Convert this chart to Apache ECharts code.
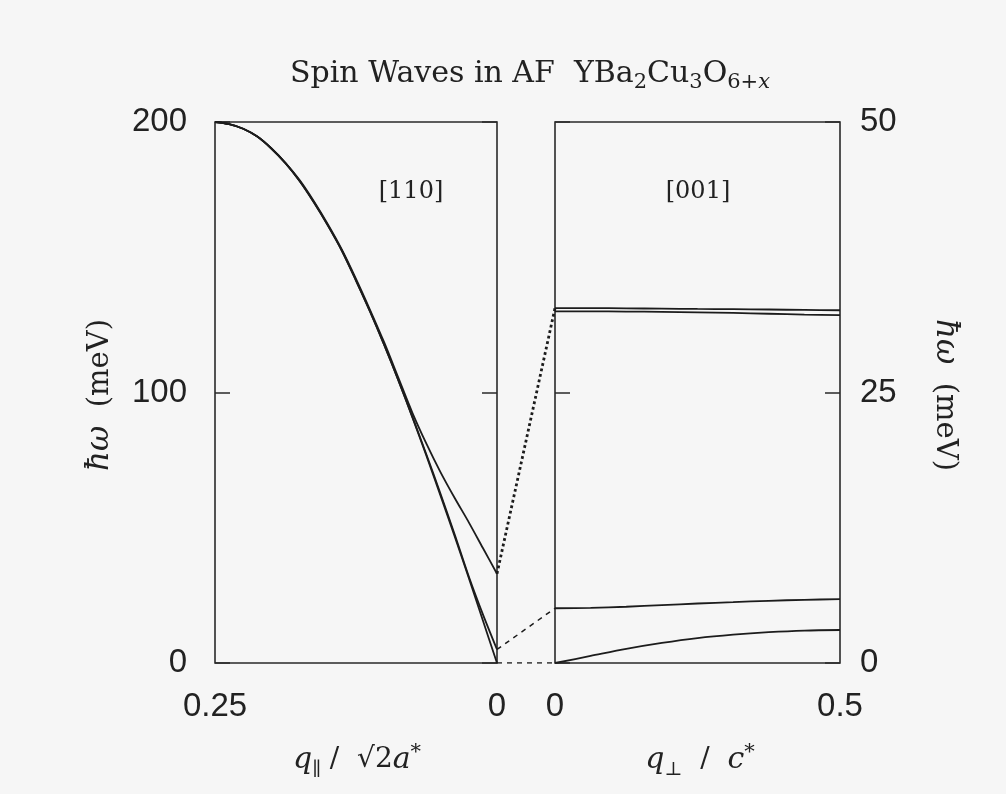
<!DOCTYPE html>
<html><head><meta charset="utf-8">
<script src="https://cdn.jsdelivr.net/npm/echarts@6/dist/echarts.min.js"></script>
<style>html,body{margin:0;padding:0;background:#f6f6f6}#c{width:1006px;height:794px}</style>
</head><body><div id="c"></div>
<script>
// ---- data ----
// [110] panel: q_par (units of sqrt2 a*), energy in meV (left scale 0-200)
const q110 = [0.25, 0.2375, 0.225, 0.2125, 0.20, 0.1875, 0.175, 0.1625, 0.15, 0.1375, 0.125, 0.1125, 0.10, 0.0875, 0.075, 0.0625, 0.05, 0.0375, 0.025, 0.0125, 0.0];
const w110_gap33 = [200, 199.2, 197.5, 194.6, 190.2, 184.8, 178.5, 170.8, 162.2, 152.8, 142, 130.5, 118.5, 105.5, 92.5, 81, 70.5, 61, 52, 42.5, 33];
const w110_gap5  = [200, 199.2, 197.5, 194.6, 190.2, 184.8, 178.2, 170.4, 161.8, 152.4, 141.4, 129.9, 117.6, 104.6, 91, 77, 62.5, 47.5, 32, 18, 5];
const w110_gap0  = [200, 199.2, 197.5, 194.6, 190.2, 184.8, 178.2, 170.4, 161.8, 152.4, 141.4, 129.9, 117.6, 104.6, 90.8, 76.5, 61.8, 46.8, 31.4, 15.7, 0];
// [001] panel: q_perp (units of c*), energy in meV (right scale 0-50)
const q001 = [0, 0.0625, 0.125, 0.1875, 0.25, 0.3125, 0.375, 0.4375, 0.5];
const w001_top1 = [32.8, 32.8, 32.78, 32.75, 32.72, 32.7, 32.67, 32.63, 32.6];
const w001_top2 = [32.5, 32.5, 32.48, 32.45, 32.4, 32.35, 32.28, 32.2, 32.15];
const w001_mid  = [5.06, 5.1, 5.2, 5.35, 5.5, 5.62, 5.75, 5.84, 5.9];
const w001_low  = [0, 0.65, 1.3, 1.85, 2.3, 2.62, 2.85, 3.0, 3.05];
// tick labels
const leftTicks = [0, 100, 200];
const rightTicks = [0, 25, 50];

const pairs = (xs, ys) => xs.map((x, i) => [x, ys[i]]);
const INK = '#1c1c1c';
const TICKFONT = 'Liberation Sans';
const SERIF = 'DejaVu Serif';

const curve = (data, xi, yi) => ({
  type: 'line', xAxisIndex: xi, yAxisIndex: yi, data, smooth: 0.3,
  showSymbol: false, symbol: 'none', lineStyle: { color: INK, width: 1.8 }, z: 3, silent: true
});
const conn = (data, type, width) => ({
  type: 'line', xAxisIndex: 2, yAxisIndex: 4, data, showSymbol: false, symbol: 'none',
  lineStyle: { color: INK, width, type }, silent: true
});

const chart = echarts.init(document.getElementById('c'), null, { renderer: 'canvas' });

const gridCommon = { show: true, borderColor: '#2a2a2a', borderWidth: 1.6, backgroundColor: 'transparent' };
const yBase = (extra) => Object.assign({
  type: 'value', splitLine: { show: false },
  axisLine: { show: false, onZero: false },
  axisTick: { show: true, inside: true, length: 15, lineStyle: { color: '#2a2a2a', width: 1.5 } },
  axisLabel: { show: false }
}, extra);
const xBase = (extra) => Object.assign({
  type: 'value', splitLine: { show: false }, axisLine: { show: false, onZero: false }, axisTick: { show: false },
  axisLabel: { show: true, color: '#222', fontFamily: TICKFONT, fontSize: 33, margin: 27 }
}, extra);

chart.setOption({
  backgroundColor: '#f6f6f6',
  animation: false,
  grid: [
    Object.assign({ left: 215, top: 122, width: 282, height: 541 }, gridCommon),
    Object.assign({ left: 555, top: 122, width: 285, height: 541 }, gridCommon),
    { left: 497, top: 122, width: 58, height: 541, show: false }
  ],
  xAxis: [
    xBase({ gridIndex: 0, min: 0, max: 0.25, interval: 0.25, inverse: true }),
    xBase({ gridIndex: 1, min: 0, max: 0.5, interval: 0.5 }),
    { type: 'value', gridIndex: 2, min: 0, max: 1, show: false }
  ],
  yAxis: [
    yBase({ gridIndex: 0, position: 'left', min: leftTicks[0], max: leftTicks[2], interval: leftTicks[1],
      axisLabel: { show: true, color: '#222', fontFamily: TICKFONT, fontSize: 33, margin: 28 } }),
    yBase({ gridIndex: 0, position: 'right', min: leftTicks[0], max: leftTicks[2], interval: leftTicks[1] }),
    yBase({ gridIndex: 1, position: 'left', min: rightTicks[0], max: rightTicks[2], interval: rightTicks[1] }),
    yBase({ gridIndex: 1, position: 'right', min: rightTicks[0], max: rightTicks[2], interval: rightTicks[1],
      axisLabel: { show: true, color: '#222', fontFamily: TICKFONT, fontSize: 33, margin: 20 } }),
    { type: 'value', gridIndex: 2, min: leftTicks[0], max: leftTicks[2], show: false }
  ],
  series: [
    curve(pairs(q110, w110_gap33), 0, 0),
    curve(pairs(q110, w110_gap5), 0, 0),
    curve(pairs(q110, w110_gap0), 0, 0),
    curve(pairs(q001, w001_top1), 1, 3),
    curve(pairs(q001, w001_top2), 1, 3),
    curve(pairs(q001, w001_mid), 1, 3),
    curve(pairs(q001, w001_low), 1, 3),
    // connectors between panels (right-panel meV scaled x4 onto the 0-200 scale)
    conn([[0, w110_gap33[w110_gap33.length - 1]], [1, w001_top1[0] * 4]], 'dotted', 2.8),
    conn([[0, w110_gap5[w110_gap5.length - 1]], [1, w001_mid[0] * 4]], [5, 5], 1.5),
    conn([[0, w110_gap0[w110_gap0.length - 1]], [1, w001_low[0] * 4]], [5, 5], 1.5)
  ],
  graphic: [
    { type: 'text', x: 530, y: 74, style: {
      text: '{t|Spin Waves in AF  YBa}{s|2}{t|Cu}{s|3}{t|O}{s|6+}{si|x}',
      align: 'center', verticalAlign: 'middle', fill: '#222',
      rich: {
        t: { fontFamily: SERIF, fontSize: 30, verticalAlign: 'middle', fill: '#222' },
        s: { fontFamily: SERIF, fontSize: 21, verticalAlign: 'middle', padding: [18, 0, 0, 0], fill: '#222' },
        si: { fontFamily: SERIF, fontSize: 21, fontStyle: 'italic', verticalAlign: 'middle', padding: [18, 0, 0, 0], fill: '#222' }
      } } },
    { type: 'text', x: 100, y: 395, rotation: Math.PI / 2, style: {
      text: '{i|ħω}{t|  (meV)}', align: 'center', verticalAlign: 'middle',
      rich: {
        i: { fontFamily: SERIF, fontSize: 31, fontStyle: 'italic', fill: '#222' },
        t: { fontFamily: SERIF, fontSize: 29, fill: '#222' }
      } } },
    { type: 'text', x: 945, y: 395, rotation: -Math.PI / 2, style: {
      text: '{i|ħω}{t|  (meV)}', align: 'center', verticalAlign: 'middle',
      rich: {
        i: { fontFamily: SERIF, fontSize: 31, fontStyle: 'italic', fill: '#222' },
        t: { fontFamily: SERIF, fontSize: 29, fill: '#222' }
      } } },
    { type: 'text', x: 357, y: 760, style: {
      text: '{i|q}{s|∥}{t| /  √2}{i|a}{p|*}', align: 'center', verticalAlign: 'middle',
      rich: {
        i: { fontFamily: SERIF, fontSize: 30, fontStyle: 'italic', fill: '#222', verticalAlign: 'middle' },
        t: { fontFamily: SERIF, fontSize: 28, fill: '#222', verticalAlign: 'middle' },
        s: { fontFamily: SERIF, fontSize: 19, fill: '#222', verticalAlign: 'middle', padding: [20, 0, 0, 0] },
        p: { fontFamily: SERIF, fontSize: 21, fill: '#222', verticalAlign: 'middle', padding: [0, 0, 14, 0] }
      } } },
    { type: 'text', x: 700, y: 760, style: {
      text: '{i|q}{s|⊥}{t|  /  }{i|c}{p|*}', align: 'center', verticalAlign: 'middle',
      rich: {
        i: { fontFamily: SERIF, fontSize: 30, fontStyle: 'italic', fill: '#222', verticalAlign: 'middle' },
        t: { fontFamily: SERIF, fontSize: 28, fill: '#222', verticalAlign: 'middle' },
        s: { fontFamily: SERIF, fontSize: 19, fill: '#222', verticalAlign: 'middle', padding: [20, 0, 0, 0] },
        p: { fontFamily: SERIF, fontSize: 21, fill: '#222', verticalAlign: 'middle', padding: [0, 0, 14, 0] }
      } } },
    { type: 'text', x: 411, y: 192, style: { text: '[110]', font: '24px "DejaVu Serif"', fill: '#222', align: 'center', verticalAlign: 'middle' } },
    { type: 'text', x: 698, y: 192, style: { text: '[001]', font: '24px "DejaVu Serif"', fill: '#222', align: 'center', verticalAlign: 'middle' } }
  ]
});
</script></body></html>
